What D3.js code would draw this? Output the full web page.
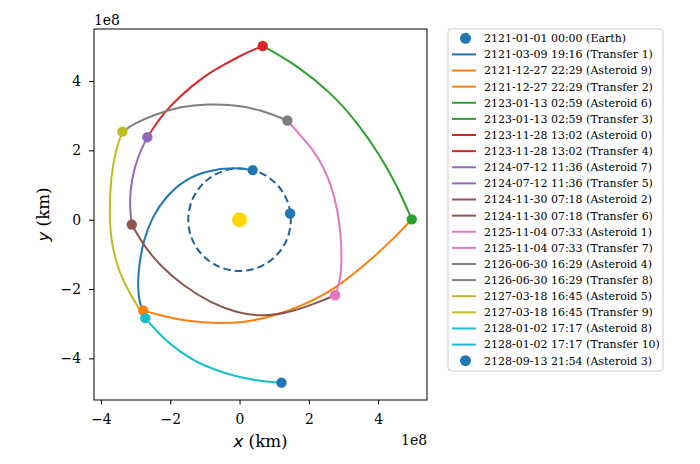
<!DOCTYPE html>
<html>
<head>
<meta charset="utf-8">
<script src="https://cdn.jsdelivr.net/npm/d3@7"></script>
<style>
  body { margin: 0; background: #fff; }
  svg { display: block; }
  text { font-family: "DejaVu Serif", serif; fill: #000; }
</style>
</head>
<body>
<div id="chart"></div>
<script>
// positions in units of 1e8 km
const sun = [0, 0];
const earthOrbitRadius = 1.48;
const earthStart = [1.46, 0.18];

const transfer1 = [[0.38, 1.43], [-0.15, 1.51], [-0.92, 1.42], [-1.60, 1.15], [-2.12, 0.67], [-2.51, 0.10], [-2.77, -0.58], [-2.91, -1.35], [-2.94, -2.02], [-2.87, -2.45], [-2.78, -2.62]];
const transfer2 = [[-2.78, -2.62], [-2.27, -2.77], [-1.50, -2.93], [-0.63, -3.00], [0.14, -2.96], [0.91, -2.80], [1.77, -2.50], [2.73, -2.02], [3.69, -1.25], [4.46, -0.53], [4.97, 0.01]];
const transfer3 = [[4.97, 0.01], [4.54, 0.99], [4.06, 1.85], [3.39, 2.82], [2.62, 3.68], [1.66, 4.45], [0.67, 5.01]];
const transfer4 = [[0.67, 5.01], [0.40, 4.90], [0.01, 4.72], [-0.47, 4.46], [-0.95, 4.18], [-1.33, 3.89], [-1.72, 3.55], [-2.05, 3.22], [-2.29, 2.93], [-2.49, 2.64], [-2.66, 2.38]];
const transfer5 = [[-2.66, 2.38], [-2.94, 1.82], [-3.12, 1.15], [-3.18, 0.48], [-3.11, -0.14]];
const transfer6 = [[-3.11, -0.14], [-2.75, -0.77], [-2.27, -1.35], [-1.60, -1.92], [-0.83, -2.40], [-0.06, -2.69], [0.71, -2.80], [1.58, -2.64], [2.35, -2.35], [2.76, -2.18]];
const transfer7 = [[2.76, -2.18], [2.82, -2.03], [2.92, -1.65], [2.95, -1.07], [2.92, -0.40], [2.83, 0.28], [2.66, 0.95], [2.42, 1.53], [2.13, 2.01], [1.75, 2.44], [1.38, 2.86]];
const transfer8 = [[1.38, 2.86], [0.62, 3.17], [-0.15, 3.31], [-0.92, 3.34], [-1.69, 3.27], [-2.46, 3.03], [-3.04, 2.77], [-3.38, 2.54]];
const transfer9 = [[-3.38, 2.54], [-3.57, 2.02], [-3.71, 1.25], [-3.76, 0.29], [-3.71, -0.67], [-3.47, -1.54], [-3.13, -2.21], [-2.72, -2.84]];
const transfer10 = [[-2.72, -2.84], [-2.27, -3.36], [-1.69, -3.84], [-1.02, -4.23], [-0.15, -4.52], [0.62, -4.66], [1.21, -4.70]];

const transfers = [transfer1, transfer2, transfer3, transfer4, transfer5,
                   transfer6, transfer7, transfer8, transfer9, transfer10];

const xTicks = [-4, -2, 0, 2, 4];
const yTicks = [-4, -2, 0, 2, 4];

const legendLabels = [
  "2121-01-01 00:00 (Earth)",
  "2121-03-09 19:16 (Transfer 1)",
  "2121-12-27 22:29 (Asteroid 9)",
  "2121-12-27 22:29 (Transfer 2)",
  "2123-01-13 02:59 (Asteroid 6)",
  "2123-01-13 02:59 (Transfer 3)",
  "2123-11-28 13:02 (Asteroid 0)",
  "2123-11-28 13:02 (Transfer 4)",
  "2124-07-12 11:36 (Asteroid 7)",
  "2124-07-12 11:36 (Transfer 5)",
  "2124-11-30 07:18 (Asteroid 2)",
  "2124-11-30 07:18 (Transfer 6)",
  "2125-11-04 07:33 (Asteroid 1)",
  "2125-11-04 07:33 (Transfer 7)",
  "2126-06-30 16:29 (Asteroid 4)",
  "2126-06-30 16:29 (Transfer 8)",
  "2127-03-18 16:45 (Asteroid 5)",
  "2127-03-18 16:45 (Transfer 9)",
  "2128-01-02 17:17 (Asteroid 8)",
  "2128-01-02 17:17 (Transfer 10)",
  "2128-09-13 21:54 (Asteroid 3)"
];

// --- SVG setup ---
const width = 700, height = 464;
const palette = d3.schemeCategory10;

const svg = d3.select("#chart")
  .append("svg")
  .attr("width", width)
  .attr("height", height);

// --- SCALES (equal aspect) ---
const x = d3.scaleLinear().domain([-4.2, 5.41]).range([94, 427]);
const y = d3.scaleLinear().domain([-5.2, 5.5]).range([400, 29]);

// --- AXES ---
const xAxis = svg.append("g")
  .attr("transform", `translate(0,400)`)
  .call(d3.axisBottom(x).tickValues(xTicks).tickSize(4.5).tickPadding(10).tickFormat(d3.format("d")));

const yAxis = svg.append("g")
  .attr("transform", `translate(94,0)`)
  .call(d3.axisLeft(y).tickValues(yTicks).tickSize(5).tickPadding(8).tickFormat(d3.format("d")));

[xAxis, yAxis].forEach(a => {
  a.select(".domain").remove();
  a.selectAll("line").attr("stroke", "#000").attr("stroke-width", 1);
  a.selectAll("text")
    .style("font-family", "DejaVu Serif")
    .style("font-size", "13.9px")
    .attr("fill", "#000");
});

// --- EARTH ORBIT (dashed) ---
const cx = x(0), cy = y(0);
const rPx = x(earthOrbitRadius) - x(0);
const a0 = -Math.atan2(earthStart[1], earthStart[0]);
const orbit = d3.path();
orbit.moveTo(cx + rPx * Math.cos(a0), cy + rPx * Math.sin(a0));
orbit.arc(cx, cy, rPx, a0, a0 - 2 * Math.PI + 0.001, true);
svg.append("path")
  .attr("d", orbit.toString())
  .attr("fill", "none")
  .attr("stroke", "#215f97")
  .attr("stroke-width", 2)
  .attr("stroke-dasharray", "7.5,4");

// --- TRANSFERS ---
const line = d3.line()
  .x(d => x(d[0]))
  .y(d => y(d[1]))
  .curve(d3.curveBasis);

svg.selectAll(".transfer")
  .data(transfers)
  .enter()
  .append("path")
  .attr("class", "transfer")
  .attr("d", line)
  .attr("fill", "none")
  .attr("stroke", (d, i) => palette[i])
  .attr("stroke-width", 2);

// --- SUN ---
svg.append("circle")
  .attr("cx", x(sun[0]))
  .attr("cy", y(sun[1]))
  .attr("r", 7.5)
  .attr("fill", "#ffd700");

// --- STOPS: Earth start, Earth departure, then each asteroid ---
const stops = [
  { p: earthStart, c: palette[0] },
  { p: transfer1[0], c: palette[0] }
].concat(transfers.map((t, i) => ({ p: t[t.length - 1], c: palette[(i + 1) % 10] })));

svg.selectAll(".stop")
  .data(stops)
  .enter()
  .append("circle")
  .attr("class", "stop")
  .attr("cx", d => x(d.p[0]))
  .attr("cy", d => y(d.p[1]))
  .attr("r", 5.2)
  .attr("fill", d => d.c);

// --- FRAME ---
svg.append("rect")
  .attr("x", 94).attr("y", 29)
  .attr("width", 333).attr("height", 371)
  .attr("fill", "none")
  .attr("stroke", "#000")
  .attr("stroke-width", 1);

// --- OFFSET TEXT ---
svg.append("text")
  .attr("x", 94).attr("y", 25)
  .style("font-size", "13.9px")
  .text("1e8");

svg.append("text")
  .attr("x", 427).attr("y", 445)
  .attr("text-anchor", "end")
  .style("font-size", "13.9px")
  .text("1e8");

// --- AXIS LABELS ---
const xLabel = svg.append("text")
  .attr("x", 260.5).attr("y", 447)
  .attr("text-anchor", "middle")
  .style("font-size", "16.7px");
xLabel.append("tspan").style("font-family", "DejaVu Sans").style("font-style", "italic").text("x");
xLabel.append("tspan").text(" (km)");

const yLabel = svg.append("text")
  .attr("transform", "translate(49,214.5) rotate(-90)")
  .attr("text-anchor", "middle")
  .style("font-size", "16.7px");
yLabel.append("tspan").style("font-family", "DejaVu Sans").style("font-style", "italic").text("y");
yLabel.append("tspan").text(" (km)");

// --- LEGEND ---
const legend = svg.append("g");
legend.append("rect")
  .attr("x", 448).attr("y", 29)
  .attr("width", 215).attr("height", 342)
  .attr("rx", 3)
  .attr("fill", "#fff")
  .attr("fill-opacity", 0.8)
  .attr("stroke", "#cccccc")
  .attr("stroke-width", 1);

const rowY = i => 38.3 + i * 16.12;

legendLabels.forEach((label, i) => {
  const col = palette[Math.floor(i / 2) % 10];
  const isMarker = i === 0 || i === legendLabels.length - 1;
  if (isMarker) {
    legend.append("circle")
      .attr("cx", 465.5).attr("cy", rowY(i))
      .attr("r", 5.5)
      .attr("fill", col);
  } else {
    legend.append("line")
      .attr("x1", 452).attr("x2", 476)
      .attr("y1", rowY(i)).attr("y2", rowY(i))
      .attr("stroke", col)
      .attr("stroke-width", 2);
  }
  legend.append("text")
    .attr("x", 484)
    .attr("y", rowY(i) + 3.9)
    .style("font-size", "11px")
    .text(label);
});
</script>
</body>
</html>
